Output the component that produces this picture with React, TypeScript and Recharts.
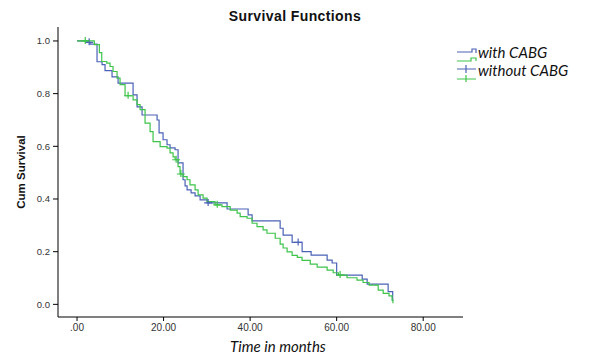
import React from 'react';
import { ComposedChart, Line, Scatter, XAxis, YAxis } from 'recharts';

// with CABG: event times (months) and survival after each step
const withTimes = [0, 2.54, 3.0, 4.62, 5.78, 6.47, 8.09, 9.48, 12.95, 13.87, 15.03, 18.5, 18.96, 19.88, 20.8, 21.5, 22.66, 23.35, 24.5, 24.97, 25.43, 26.36, 27.28, 28.44, 30.06, 34.68, 39.54, 40.46, 46.94, 47.63, 49.71, 52.02, 54.1, 57.8, 58.96, 60.0, 65.9, 67.05, 71.9, 72.95];
const withSurv = [1.0, 0.995, 0.988, 0.921, 0.91, 0.887, 0.864, 0.84, 0.795, 0.75, 0.719, 0.7, 0.651, 0.625, 0.606, 0.594, 0.587, 0.537, 0.473, 0.45, 0.435, 0.423, 0.412, 0.397, 0.385, 0.362, 0.34, 0.317, 0.289, 0.263, 0.235, 0.2, 0.187, 0.168, 0.157, 0.111, 0.096, 0.077, 0.048, 0.013];
const withCensorT = [2.8, 30.3, 51.1];
const withCensorS = [0.995, 0.385, 0.235];

// without CABG
const withoutTimes = [0, 4.0, 5.16, 5.71, 6.87, 7.63, 8.32, 9.25, 9.94, 11.1, 12.95, 13.87, 14.57, 15.72, 16.88, 17.57, 19.2, 20.8, 21.5, 22.2, 22.66, 23.35, 23.8, 24.5, 25.43, 26.1, 27.28, 27.98, 29.13, 30.06, 31.9, 33.5, 35.4, 37.0, 37.7, 39.3, 40.46, 41.6, 43.0, 43.9, 45.8, 46.94, 47.63, 48.55, 49.71, 50.9, 52.0, 53.9, 55.5, 57.8, 59.2, 60.4, 62.4, 64.7, 66.1, 67.5, 69.6, 70.75, 72.1, 72.8, 73.0];
const withoutSurv = [1.0, 0.986, 0.956, 0.922, 0.916, 0.903, 0.884, 0.859, 0.834, 0.792, 0.776, 0.758, 0.739, 0.688, 0.656, 0.618, 0.599, 0.593, 0.575, 0.56, 0.549, 0.523, 0.495, 0.485, 0.473, 0.454, 0.435, 0.416, 0.403, 0.39, 0.378, 0.371, 0.358, 0.346, 0.333, 0.327, 0.308, 0.295, 0.283, 0.27, 0.251, 0.229, 0.214, 0.199, 0.186, 0.178, 0.167, 0.153, 0.141, 0.13, 0.12, 0.111, 0.101, 0.092, 0.083, 0.073, 0.054, 0.042, 0.032, 0.016, 0.004];
const withoutCensorT = [1.9, 11.8, 22.9, 24.0, 32.4, 60.8];
const withoutCensorS = [1.0, 0.792, 0.549, 0.495, 0.378, 0.111];

const xTicks = [0, 20, 40, 60, 80];
const yTicks = [0, 0.2, 0.4, 0.6, 0.8, 1.0];

const BLUE = '#4b62b6';
const GREEN = '#3ec44a';

const zip = (ts: number[], ss: number[]) => ts.map((t, i) => ({ t, s: ss[i] }));

const withData = zip(withTimes, withSurv);
const withoutData = zip(withoutTimes, withoutSurv);
const withCensor = zip(withCensorT, withCensorS);
const withoutCensor = zip(withoutCensorT, withoutCensorS);

const plus = (color: string) => (p: any) => (
  <path d={`M${p.cx - 4},${p.cy}H${p.cx + 4}M${p.cx},${p.cy - 4}V${p.cy + 3}`} stroke={color} strokeWidth={1.2} fill="none" />
);

const TICK = { fill: '#333', fontSize: 10, fontFamily: 'Liberation Sans, Arial, sans-serif' };

export default function App() {
  return (
    <div style={{ position: 'absolute', left: 0, top: 0, width: 591, height: 361, background: '#fff' }}>
      <ComposedChart width={591} height={361} margin={{ top: 27, right: 128, bottom: 0, left: 0 }}>
        <XAxis
          type="number"
          dataKey="t"
          domain={[-4.4, 89.2]}
          ticks={xTicks}
          allowDataOverflow
          height={44}
          tickSize={4}
          tickMargin={3}
          tick={TICK}
          tickFormatter={(v: number) => (v === 0 ? '.00' : v.toFixed(2))}
          axisLine={{ stroke: '#000' }}
          tickLine={{ stroke: '#000' }}
        />
        <YAxis
          type="number"
          dataKey="s"
          domain={[-0.048, 1.053]}
          ticks={yTicks}
          allowDataOverflow
          width={58}
          tickSize={5}
          tickMargin={3}
          tick={{ ...TICK, fontSize: 9.5 }}
          tickFormatter={(v: number) => v.toFixed(1)}
          axisLine={{ stroke: '#000' }}
          tickLine={{ stroke: '#000' }}
        />
        <Line data={withData} dataKey="s" type="stepAfter" stroke={BLUE} strokeWidth={1.2} dot={false} isAnimationActive={false} />
        <Line data={withoutData} dataKey="s" type="stepAfter" stroke={GREEN} strokeWidth={1.2} dot={false} isAnimationActive={false} />
        <Scatter data={withCensor} dataKey="s" shape={plus(BLUE)} isAnimationActive={false} />
        <Scatter data={withoutCensor} dataKey="s" shape={plus(GREEN)} isAnimationActive={false} />
      </ComposedChart>
      <svg width={591} height={361} style={{ position: 'absolute', left: 0, top: 0, pointerEvents: 'none' }}>
        <text x={295} y={21} textAnchor="middle" fontFamily="Liberation Sans, Arial, sans-serif" fontWeight="bold" fontSize={14} letterSpacing={0.4} fill="#111">
          Survival Functions
        </text>
        <text x={25} y={172} transform="rotate(-90 25 172)" textAnchor="middle" fontFamily="Liberation Sans, Arial, sans-serif" fontWeight="bold" fontSize={11.5} fill="#111">
          Cum Survival
        </text>
        <text x={278} y={352} textAnchor="middle" fontFamily="Lato, sans-serif" fontStyle="italic" fontSize={15} fill="#111">
          Time in months
        </text>
        <path d="M457,52H472V49H476V53" stroke={BLUE} strokeWidth={1.2} fill="none" />
        <path d="M457,61H471V58H476V61" stroke={GREEN} strokeWidth={1.2} fill="none" />
        <path d="M457,69H476M466,65V73" stroke={BLUE} strokeWidth={1.2} fill="none" />
        <path d="M457,79H476M466,75V82" stroke={GREEN} strokeWidth={1.2} fill="none" />
        <text x={478} y={57.5} fontFamily="Lato, sans-serif" fontStyle="italic" fontSize={15} fill="#111">with CABG</text>
        <text x={478} y={76} fontFamily="Lato, sans-serif" fontStyle="italic" fontSize={15} fill="#111">without CABG</text>
      </svg>
    </div>
  );
}
